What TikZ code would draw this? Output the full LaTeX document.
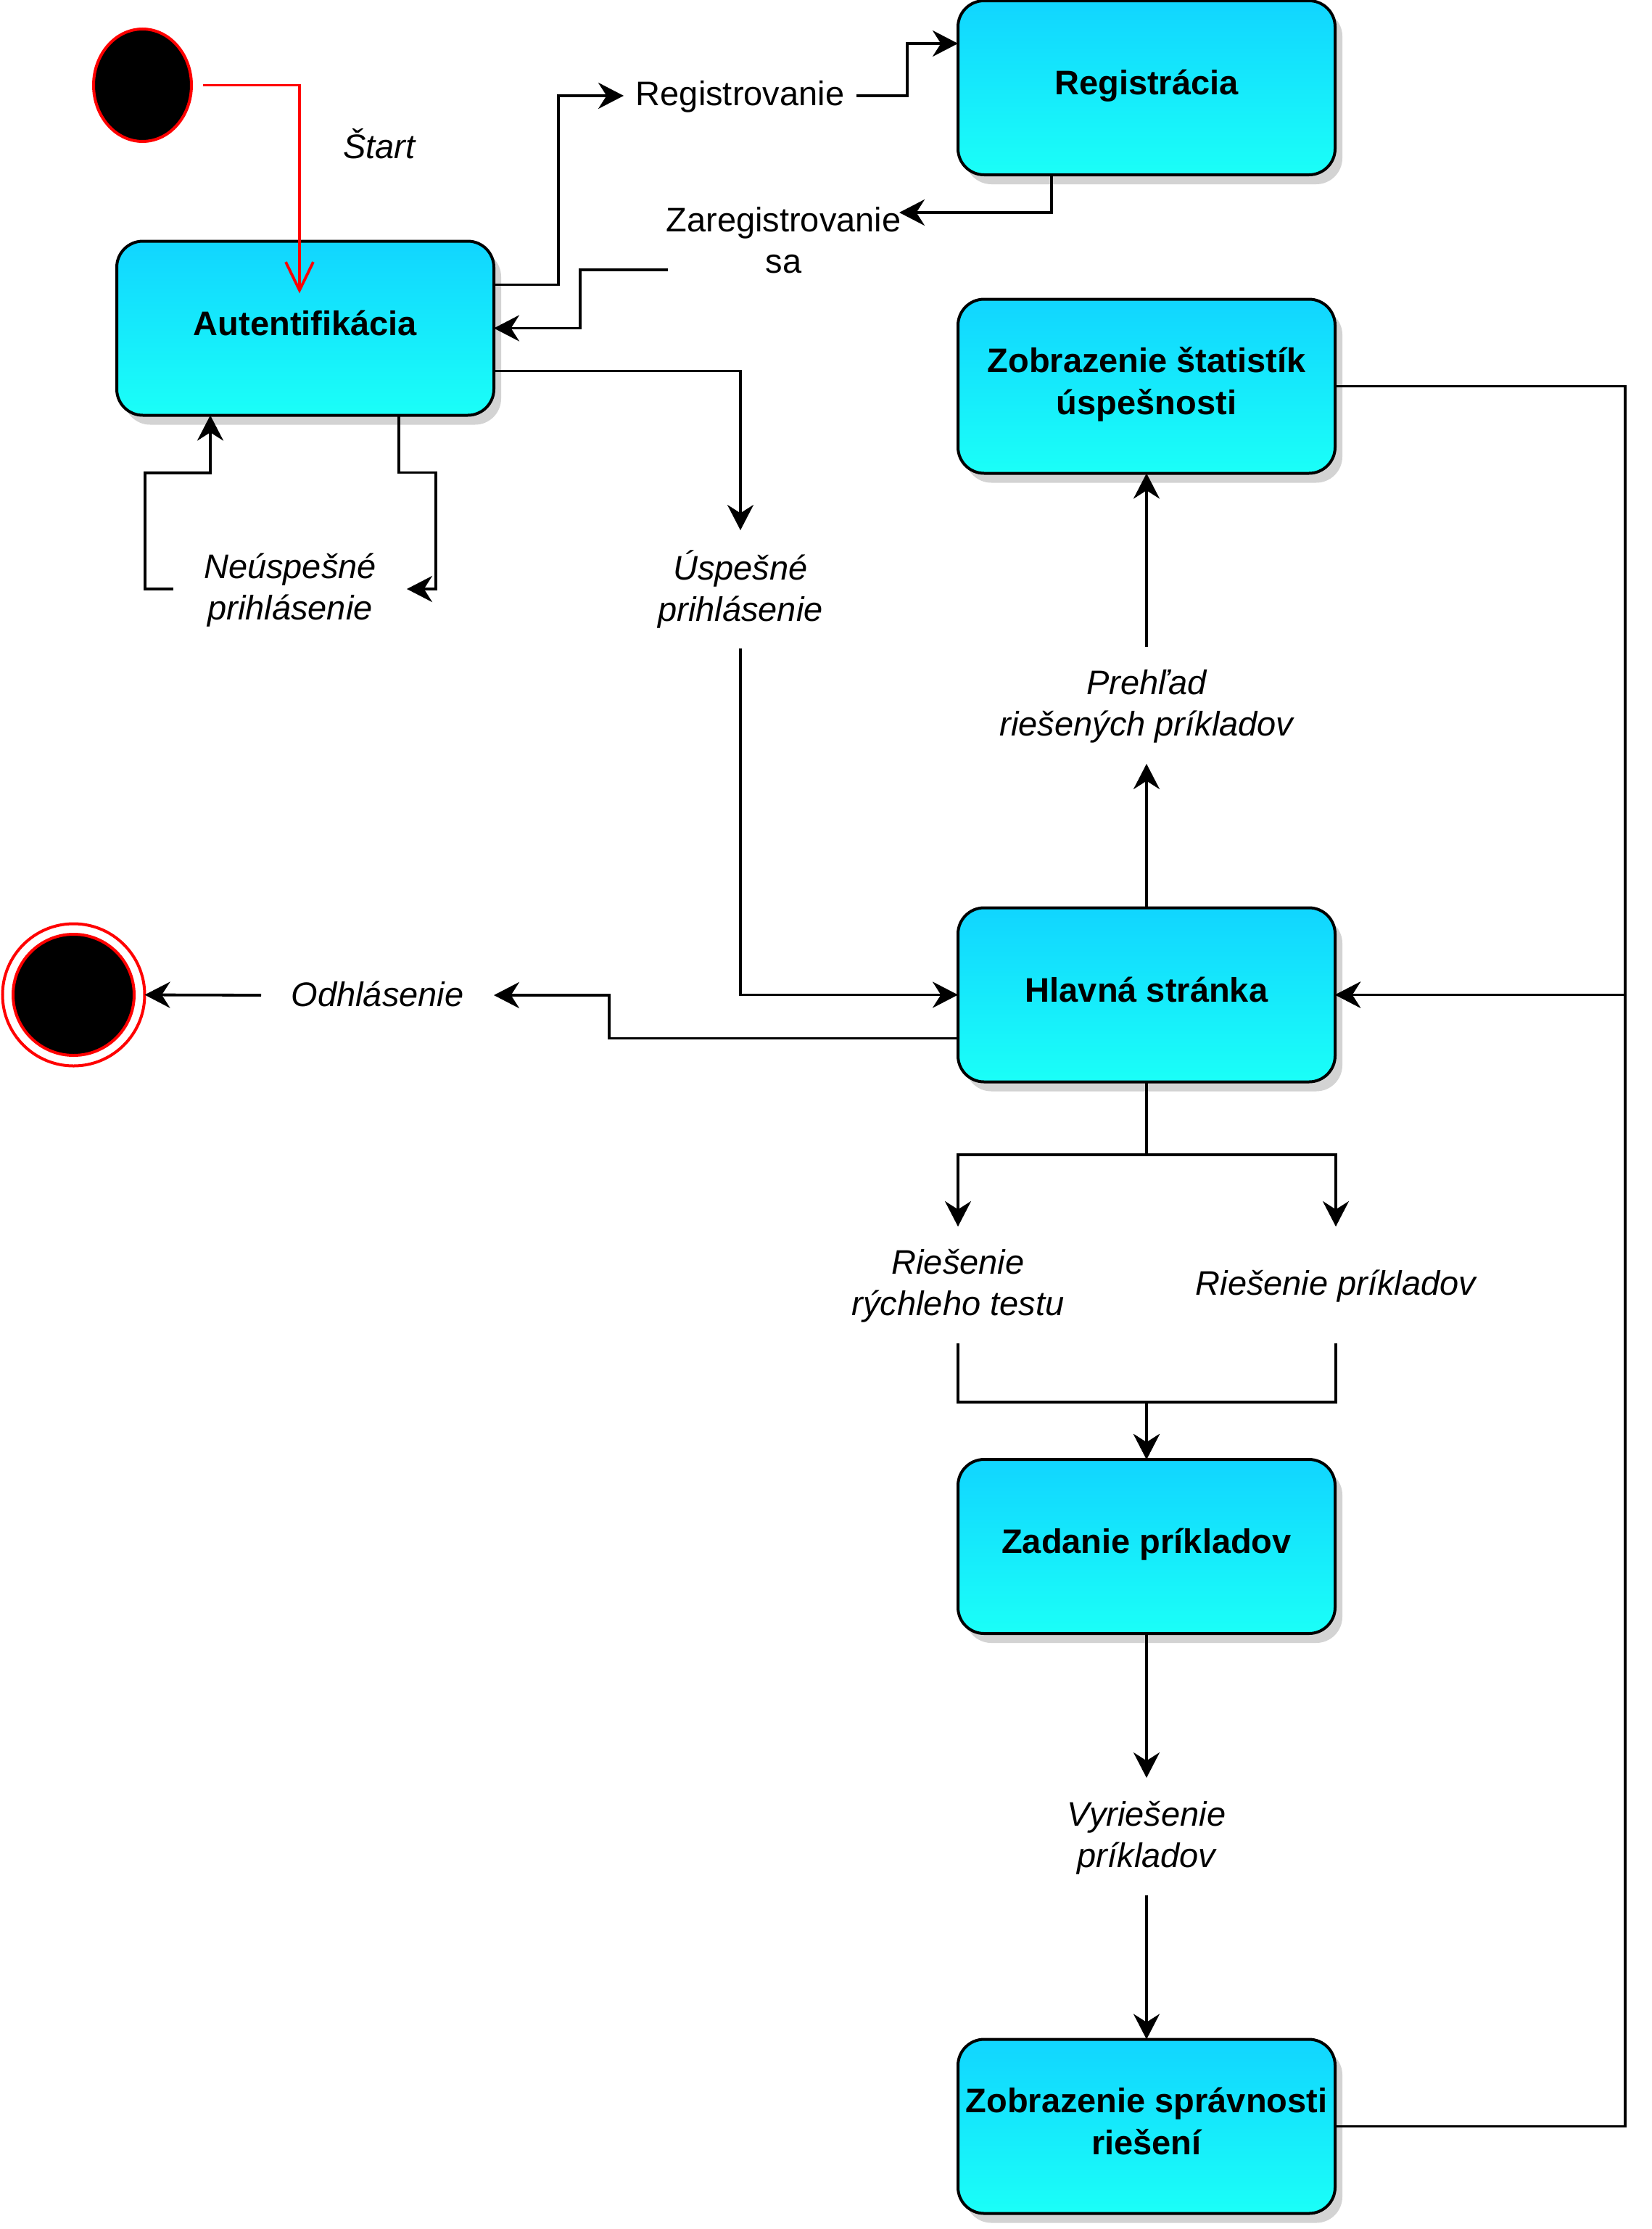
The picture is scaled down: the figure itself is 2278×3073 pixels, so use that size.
\documentclass[tikz,border=0pt]{standalone}
\usepackage{fontspec}
\setmainfont{Liberation Sans}
\usetikzlibrary{arrows.meta,shadows,calc,shapes.geometric}
\definecolor{ctop}{RGB}{17,213,255}
\definecolor{cbot}{RGB}{26,255,248}
\definecolor{shadowgray}{RGB}{211,211,211}
\newcommand\bstr{\rule[-0.33em]{0pt}{1.08em}}
\newcommand\lstr{\rule[-0.12em]{0pt}{0.92em}}
\begin{document}
\begin{tikzpicture}[x=0.5pt,y=-0.5pt,
  box/.style={rectangle, rounded corners=18pt, draw=black, line width=2pt,
    top color=ctop, bottom color=cbot, minimum width=260pt, minimum height=120pt,
    inner sep=0pt, outer sep=0pt, align=center,
    font=\fontsize{23.5}{29}\selectfont\bfseries,
    drop shadow={shadow xshift=5pt, shadow yshift=-6.5pt, fill=shadowgray, opacity=1}},
  lbl/.style={inner sep=0pt, outer sep=0pt, align=center, font=\fontsize{23.5}{28.5}\selectfont},
  ilbl/.style={lbl, font=\fontsize{23.5}{28.5}\selectfont\itshape},
  conn/.style={line width=1.9pt, -{Stealth[length=17.5pt,width=18pt]}},
  redconn/.style={line width=1.9pt, red, -{Straight Barb[length=19.5pt,width=19pt]}}
]
\useasboundingbox (0,0) rectangle (2278,3073);

% states
\node[ellipse, draw=red, fill=black, line width=2pt, inner sep=0pt, outer sep=0pt,
  minimum width=67.5pt, minimum height=77.5pt] (start) at (196.5,117.5) {};
\node[circle, draw=red, fill=white, line width=2pt, inner sep=0pt, outer sep=0pt,
  minimum size=98pt] (endo) at (101.5,1371.5) {};
\node[circle, draw=red, fill=black, line width=2pt, inner sep=0pt, outer sep=0pt,
  minimum size=83.5pt] (endi) at (101.5,1371.5) {};

\node[box] (auth) at (421,452.5) {\bstr Autentifikácia};
\node[box] (reg) at (1581,121) {\bstr Registrácia};
\node[box] (stats) at (1581,532.5) {\bstr Zobrazenie štatistík\\\bstr úspešnosti};
\node[box] (main) at (1581,1371.5) {\bstr Hlavná stránka};
\node[box] (task) at (1581,2132) {\bstr Zadanie príkladov};
\node[box] (result) at (1581,2931.5) {\bstr Zobrazenie správnosti\\\bstr riešení};

% labels
\node[ilbl] (lstart) at (523,201) {\lstr Štart};
\node[lbl, minimum width=160.5pt] (lreg) at (1020.5,132) {\lstr Registrovanie};
\node[lbl] (lzar) at (1080.5,332.5) {\lstr Zaregistrovanie\\\lstr sa};
\node[ilbl, minimum width=161pt] (lfail) at (400,812) {\lstr Neúspešné\\\lstr prihlásenie};
\node[ilbl, minimum height=81.5pt] (lsucc) at (1021,812.5) {\lstr Úspešné\\\lstr prihlásenie};
\node[ilbl, minimum height=80.5pt] (lover) at (1581,972.5) {\lstr Prehľad\\\lstr riešených príkladov};
\node[ilbl, minimum width=160.5pt] (llogout) at (520.5,1372) {\lstr Odhlásenie};
\node[ilbl, minimum height=80.5pt] (lquick) at (1321,1771.5) {\lstr Riešenie\\\lstr rýchleho testu};
\node[ilbl, minimum height=80.5pt] (lsolve) at (1842,1771.5) {\lstr Riešenie príkladov};
\node[ilbl, minimum height=81pt] (ldone) at (1581,2532) {\lstr Vyriešenie\\\lstr príkladov};

\coordinate (lzarne) at ($(lzar.center)+(159.5,-39.5)$);
\coordinate (lzarsw) at ($(lzar.center)+(-159.5,39.5)$);
\coordinate (rail) at ($(main.east)+(400,0)$);

% connectors
\draw[redconn] ($(start.east)+(16,0)$) -| ($(auth.north west)+(252,72)$);

\draw[conn] ($(auth.north east)+(0,60)$) -- ++(89,0) |- (lreg.west);
\draw[conn] (lreg.east) -- ++(70,0) |- ($(reg.north west)+(0,59)$);
\draw[conn] ($(reg.south west)+(129,0)$) |- (lzarne);
\draw[conn] (lzarsw) -- ++(-121,0) |- (auth.east);

\draw[conn] ($(auth.south east)+(0,-61)$) -| (lsucc.north);
\draw[conn] (lsucc.south) |- (main.west);

\draw[conn] ($(auth.south west)+(389,0)$) -- ++(0,79) -- ++(51,0) |- (lfail.east);
\draw[conn] (lfail.west) -- ++(-39,0) -- ++(0,-160) -| ($(auth.south west)+(129,0)$);

\draw[conn] (main.north) -- (lover.south);
\draw[conn] (lover.north) -- (stats.south);

\draw[conn] ($(main.south west)+(0,-60)$) -- ++(-481,0) |- (llogout.east);
\draw[conn] (llogout.west) -- (endo.east);

\draw[conn] (main.south) -- ++(0,100.5) -| (lquick.north);
\draw[conn] (main.south) -- ++(0,100.5) -| (lsolve.north);
\draw[conn] (lquick.south) -- ++(0,81) -| (task.north);
\draw[conn] (lsolve.south) -- ++(0,81) -| (task.north);

\draw[conn] (task.south) -- (ldone.north);
\draw[conn] (ldone.south) -- (result.north);

\draw[conn] (stats.east) -| (rail) -- (main.east);
\draw[conn] (result.east) -| (rail) -- (main.east);
\end{tikzpicture}
\end{document}
